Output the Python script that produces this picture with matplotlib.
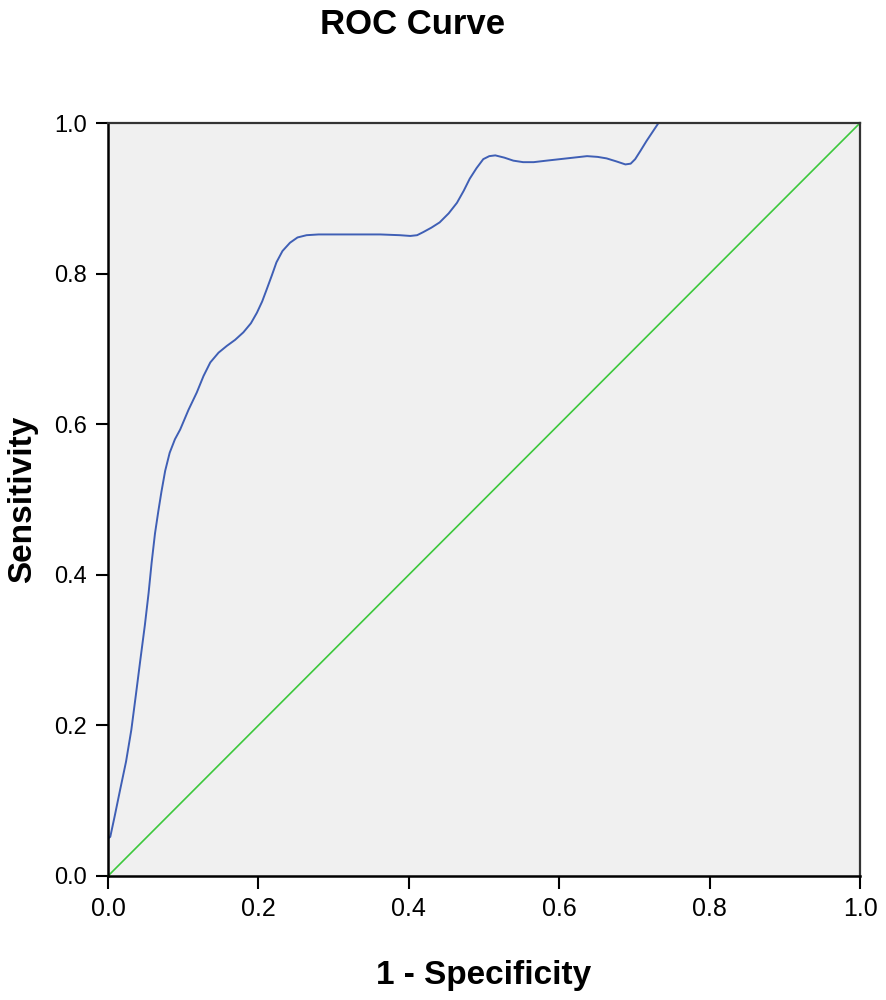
import matplotlib.pyplot as plt

plt.rcParams['font.family'] = ['Liberation Sans', 'DejaVu Sans']

fpr = [0.0, 0.003, 0.009, 0.016, 0.024, 0.031, 0.037, 0.043, 0.049, 0.054,
       0.058, 0.0625, 0.067, 0.071, 0.076, 0.082, 0.089, 0.096, 0.107, 0.118,
       0.127, 0.136, 0.147, 0.158, 0.169, 0.180, 0.190, 0.198, 0.205, 0.211,
       0.218, 0.224, 0.232, 0.242, 0.252, 0.264, 0.280, 0.300, 0.330, 0.362,
       0.388, 0.402, 0.411, 0.419, 0.430, 0.441, 0.453, 0.464, 0.473, 0.481,
       0.490, 0.499, 0.507, 0.515, 0.527, 0.539, 0.552, 0.566, 0.583, 0.601,
       0.619, 0.637, 0.651, 0.663, 0.676, 0.688, 0.695, 0.701, 0.708, 0.716,
       0.724, 0.732, 0.80, 0.90, 1.0]
tpr = [0.050, 0.052, 0.080, 0.114, 0.152, 0.194, 0.240, 0.287, 0.333, 0.376,
       0.416, 0.455, 0.485, 0.510, 0.538, 0.562, 0.580, 0.593, 0.619, 0.642,
       0.664, 0.682, 0.695, 0.704, 0.712, 0.722, 0.734, 0.748, 0.763, 0.779,
       0.798, 0.815, 0.830, 0.841, 0.848, 0.851, 0.852, 0.852, 0.852, 0.852,
       0.851, 0.850, 0.851, 0.855, 0.861, 0.868, 0.880, 0.894, 0.910, 0.926,
       0.940, 0.952, 0.956, 0.957, 0.954, 0.950, 0.948, 0.948, 0.950, 0.952,
       0.954, 0.956, 0.955, 0.953, 0.949, 0.945, 0.946, 0.952, 0.963, 0.976,
       0.988, 1.0, 1.0, 1.0, 1.0]

# Linha de referência
ref_x = [0.0, 1.0]
ref_y = [0.0, 1.0]

ticks = [0.0, 0.2, 0.4, 0.6, 0.8, 1.0]
tick_labels = ['0.0', '0.2', '0.4', '0.6', '0.8', '1.0']

fig = plt.figure(figsize=(8.86, 10), dpi=100)
ax = fig.add_axes([0.1219, 0.124, 0.8488, 0.753])
ax.set_facecolor('#f0f0f0')

ax.plot(ref_x, ref_y, color='#3cc83c', linewidth=1.2, clip_on=False)
ax.plot(fpr, tpr, color='#3f5fb5', linewidth=1.4, solid_joinstyle='round')

ax.set_xlim(0, 1)
ax.set_ylim(0, 1)
ax.set_xticks(ticks)
ax.set_xticklabels(tick_labels, fontsize=18)
ax.set_yticks(ticks)
ax.set_yticklabels(tick_labels, fontsize=17)
ax.tick_params(direction='out', length=9, width=1.5, color='black', pad=6)

for s in ['left', 'bottom']:
    ax.spines[s].set_linewidth(1.8)
    ax.spines[s].set_color('black')
for s in ['top', 'right']:
    ax.spines[s].set_linewidth(1.6)
    ax.spines[s].set_color('#333333')

ax.set_xlabel('1 - Specificity', fontsize=24, fontweight='bold', labelpad=28)
ax.set_ylabel('Sensitivity', fontsize=24, fontweight='bold', labelpad=12)

fig.text(0.466, 0.975, 'ROC Curve', fontsize=25, fontweight='bold',
         ha='center', va='center')

fig.savefig('out.png', dpi=100)
